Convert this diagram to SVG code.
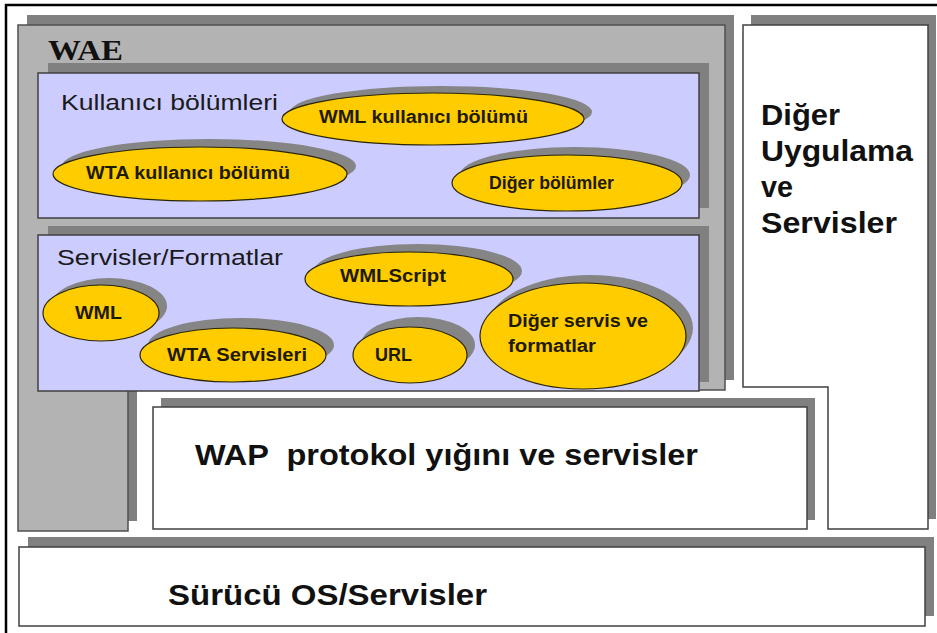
<svg xmlns="http://www.w3.org/2000/svg" width="937" height="633" viewBox="0 0 937 633">
<style>
.sh{fill:#808080;stroke:none}
.gray{fill:#b3b3b3;stroke:#505050;stroke-width:1.5}
.white{fill:#ffffff;stroke:#404040;stroke-width:1.5}
.purple{fill:#ccccff;stroke:#404040;stroke-width:1.5}
.ell{fill:#ffcc00;stroke:#2b2600;stroke-width:1.2}
.esh{fill:#858585;stroke:none}
.et{font-family:"Liberation Sans",Arial,sans-serif;font-weight:bold;font-size:18px;fill:#1e1a00}
.lbl{font-family:"Liberation Sans",Arial,sans-serif;font-size:22px;fill:#1a1a1a}
.big{font-family:"Liberation Sans",Arial,sans-serif;font-weight:bold;font-size:29px;fill:#111}
</style>
<rect x="0" y="0" width="937" height="633" fill="#ffffff"/>
<g id="frame">
<line x1="5" y1="5" x2="937" y2="5" stroke="#000" stroke-width="2.5"/>
<line x1="6" y1="4" x2="6" y2="633" stroke="#000" stroke-width="2.5"/>
</g>
<g id="wae">
<polygon class="sh" points="27,15 734,15 734,380 137,380 137,521 27,521"/>
<polygon class="gray" points="18,25 725,25 725,390 128,390 128,531 18,531"/>
<text x="48" y="60" font-family="'Liberation Serif','Times New Roman',serif" font-weight="bold" font-size="30" fill="#111" textLength="75" lengthAdjust="spacingAndGlyphs">WAE</text>
</g>
<g id="kullanici">
<rect class="sh" x="48" y="63" width="661" height="145"/>
<rect class="purple" x="38" y="73" width="661" height="145"/>
<text class="lbl" x="61" y="110" textLength="217" lengthAdjust="spacingAndGlyphs">Kullanıcı bölümleri</text>
</g>
<g id="wml-kullanici">
<ellipse class="esh" cx="441" cy="112" rx="151" ry="26"/>
<ellipse class="ell" cx="433" cy="119" rx="151" ry="26"/>
<text class="et" x="319" y="123" textLength="209" lengthAdjust="spacingAndGlyphs">WML kullanıcı bölümü</text>
</g>
<g id="wta-kullanici">
<ellipse class="esh" cx="209" cy="166" rx="147" ry="27"/>
<ellipse class="ell" cx="200" cy="174" rx="147" ry="27"/>
<text class="et" x="86" y="179" textLength="204" lengthAdjust="spacingAndGlyphs">WTA kullanıcı bölümü</text>
</g>
<g id="diger-bolumler">
<ellipse class="esh" cx="575" cy="175" rx="115" ry="28"/>
<ellipse class="ell" cx="567" cy="183" rx="115" ry="28"/>
<text class="et" x="489" y="189" textLength="125" lengthAdjust="spacingAndGlyphs">Diğer bölümler</text>
</g>
<g id="servisler">
<rect class="sh" x="48" y="226" width="661" height="156"/>
<rect class="purple" x="38" y="235" width="661" height="156"/>
<text class="lbl" x="57" y="265" textLength="226" lengthAdjust="spacingAndGlyphs">Servisler/Formatlar</text>
</g>
<g id="wmlscript">
<ellipse class="esh" cx="418" cy="271" rx="104" ry="27"/>
<ellipse class="ell" cx="409" cy="279" rx="104" ry="27"/>
<text class="et" x="340" y="282" textLength="106" lengthAdjust="spacingAndGlyphs">WMLScript</text>
</g>
<g id="wml">
<ellipse class="esh" cx="109" cy="306" rx="58" ry="28"/>
<ellipse class="ell" cx="101" cy="313" rx="58" ry="28"/>
<text class="et" x="75" y="319" textLength="47" lengthAdjust="spacingAndGlyphs">WML</text>
</g>
<g id="wta-servisleri">
<ellipse class="esh" cx="241" cy="345" rx="93" ry="27"/>
<ellipse class="ell" cx="233" cy="355" rx="93" ry="27"/>
<text class="et" x="167" y="361" textLength="140" lengthAdjust="spacingAndGlyphs">WTA Servisleri</text>
</g>
<g id="url">
<ellipse class="esh" cx="418" cy="345" rx="57" ry="28"/>
<ellipse class="ell" cx="410" cy="355" rx="57" ry="28"/>
<text class="et" x="375" y="361" textLength="37" lengthAdjust="spacingAndGlyphs">URL</text>
</g>
<g id="diger-servis">
<ellipse class="esh" cx="590" cy="328" rx="103" ry="53"/>
<ellipse class="ell" cx="583" cy="336" rx="103" ry="53"/>
<text class="et" x="508" y="327" textLength="140" lengthAdjust="spacingAndGlyphs">Diğer servis ve</text>
<text class="et" x="508" y="352" textLength="88" lengthAdjust="spacingAndGlyphs">formatlar</text>
</g>
<g id="diger-uygulama">
<polygon class="sh" points="751,15 936,15 936,519 836,519 836,377 751,377"/>
<polygon class="white" points="743,25 928,25 928,529 828,529 828,387 743,387"/>
<text class="big" x="761" y="125" textLength="79" lengthAdjust="spacingAndGlyphs">Diğer</text>
<text class="big" x="761" y="161" textLength="152" lengthAdjust="spacingAndGlyphs">Uygulama</text>
<text class="big" x="761" y="197" textLength="32" lengthAdjust="spacingAndGlyphs">ve</text>
<text class="big" x="761" y="233" textLength="136" lengthAdjust="spacingAndGlyphs">Servisler</text>
</g>
<g id="wap">
<rect class="sh" x="161" y="398" width="654" height="122"/>
<rect class="white" x="153" y="407" width="654" height="122"/>
<text class="big" x="195" y="465" xml:space="preserve" font-size="28" textLength="503" lengthAdjust="spacingAndGlyphs">WAP  protokol yığını ve servisler</text>
</g>
<g id="surucu">
<rect class="sh" x="28" y="537" width="906" height="79"/>
<rect class="white" x="19" y="547" width="906" height="79"/>
<text class="big" x="168" y="605" font-size="28" textLength="319" lengthAdjust="spacingAndGlyphs">Sürücü OS/Servisler</text>
</g>
<g id="connectors"/>
</svg>
